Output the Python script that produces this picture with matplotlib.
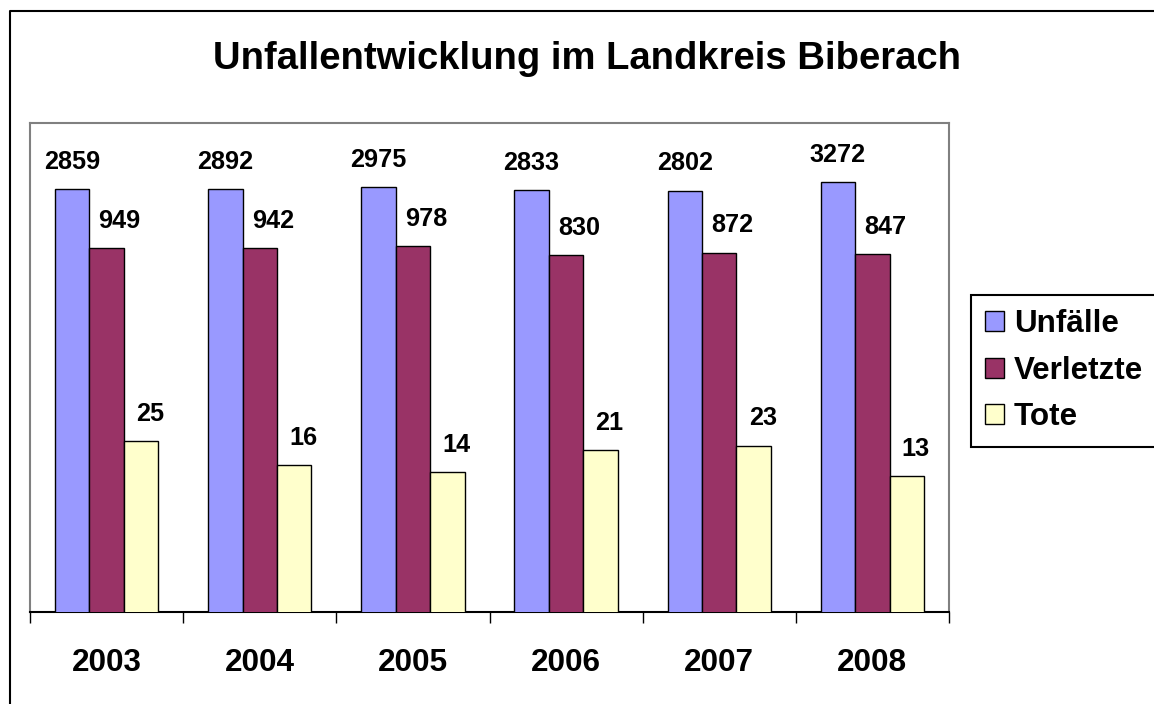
import matplotlib
matplotlib.use("Agg")
import matplotlib.pyplot as plt
import numpy as np
from matplotlib.lines import Line2D

years = ["2003", "2004", "2005", "2006", "2007", "2008"]
unfaelle = [2859, 2892, 2975, 2833, 2802, 3272]
verletzte = [949, 942, 978, 830, 872, 847]
tote = [25, 16, 14, 21, 23, 13]
series_names = ["Unfälle", "Verletzte", "Tote"]
title = "Unfallentwicklung im Landkreis Biberach"

colors = ["#9999FF", "#993366", "#FFFFCC"]
FONT = "Liberation Sans"
plt.rcParams['font.family'] = [FONT, 'DejaVu Sans']

W, H = 1154, 704
fig = plt.figure(figsize=(W / 100, H / 100), dpi=100)
fig.patch.set_facecolor("white")

# plot area in pixel coords
L, R, T, B = 30, 949, 123, 612
ax = fig.add_axes([L / W, 1 - B / H, (R - L) / W, (B - T) / H])

x = np.arange(len(years))
bw = 0.225
data = [unfaelle, verletzte, tote]
label_dx = [0, 13, 9]  # pixel offsets of data labels
bars_all = []
for i, (vals, c) in enumerate(zip(data, colors)):
    bars = ax.bar(x + (i - 1) * bw, vals, width=bw, color=c,
                  edgecolor="black", linewidth=1.0, label=series_names[i], zorder=3)
    bars_all.append(bars)
    for b, v in zip(bars, vals):
        ax.annotate(str(v), (b.get_x() + b.get_width() / 2, v),
                    xytext=(label_dx[i] * 0.72, 14.5), textcoords="offset points",
                    ha="center", va="baseline", fontsize=18.2, fontweight="bold",
                    color="black")

ax.set_yscale("log")
ax.set_ylim(1, 10000)
ax.set_yticks([])
ax.yaxis.set_minor_locator(matplotlib.ticker.NullLocator())
ax.set_xlim(-0.5, len(years) - 0.5)

# ticks at category boundaries
ax.set_xticks(np.arange(-0.5, len(years) + 0.5, 1.0))
ax.set_xticklabels([])
ax.set_xticks(x, minor=True)
ax.set_xticklabels(years, minor=True, fontsize=22.7, fontweight="bold")
ax.tick_params(axis="x", which="major", direction="out", length=8, width=1.0, color="black")
ax.tick_params(axis="x", which="minor", length=0, pad=25.6)

for s in ["left", "top", "right"]:
    ax.spines[s].set_color("#808080")
    ax.spines[s].set_linewidth(1.5)
ax.spines["bottom"].set_color("black")
ax.spines["bottom"].set_linewidth(1.5)

fig.text(587 / W, 1 - 69 / H, title, ha="center", va="baseline",
         fontsize=27.5, fontweight="bold")

leg = fig.legend(handles=bars_all, labels=series_names, loc="upper left",
                 bbox_to_anchor=(971 / W, 1 - 295 / H),
                 prop={"weight": "bold", "size": 22.6},
                 frameon=True, fancybox=False, edgecolor="black", framealpha=1,
                 handlelength=0.6, handleheight=0.6, handletextpad=0.32,
                 borderpad=0.45, borderaxespad=0, labelspacing=0.53)
leg.get_frame().set_linewidth(1.5)

# outer chart border (left and top visible)
fig.add_artist(Line2D([10 / W, 10 / W, 1.0], [0.0, 1 - 11 / H, 1 - 11 / H],
                      transform=fig.transFigure, color="black", linewidth=1.5))

fig.savefig("out.png", dpi=100, facecolor="white")
